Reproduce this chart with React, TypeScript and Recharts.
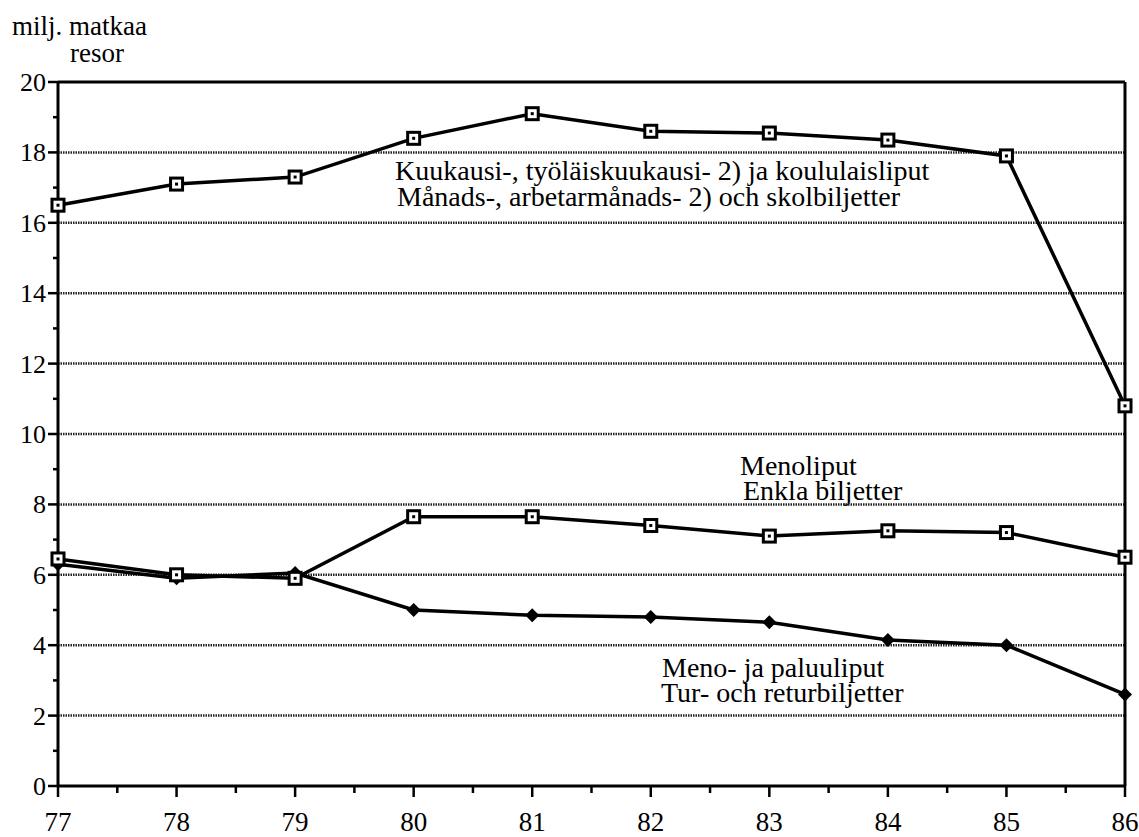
import React from "react";
import { LineChart, Line, XAxis, YAxis, ReferenceLine, Customized } from "recharts";

const years = [77, 78, 79, 80, 81, 82, 83, 84, 85, 86];
const monthly = [16.5, 17.1, 17.3, 18.4, 19.1, 18.6, 18.55, 18.35, 17.9, 10.8];
const single = [6.45, 6.0, 5.9, 7.65, 7.65, 7.4, 7.1, 7.25, 7.2, 6.5];
const returnT = [6.3, 5.9, 6.05, 5.0, 4.85, 4.8, 4.65, 4.15, 4.0, 2.6];

const xTicks = [77, 77.5, 78, 78.5, 79, 79.5, 80, 80.5, 81, 81.5, 82, 82.5, 83, 83.5, 84, 84.5, 85, 85.5, 86];
const yTicks = [0, 1, 2, 3, 4, 5, 6, 7, 8, 9, 10, 11, 12, 13, 14, 15, 16, 17, 18, 19, 20];
const gridValues = [2, 4, 6, 8, 10, 12, 14, 16, 18];

const yTitle = ["milj. matkaa", "resor"];
const labelMonthly = ["Kuukausi-, työläiskuukausi- 2) ja koululaisliput", "Månads-, arbetarmånads- 2) och skolbiljetter"];
const labelSingle = ["Menoliput", "Enkla biljetter"];
const labelReturn = ["Meno- ja paluuliput", "Tur- och returbiljetter"];

const data = years.map((y, i) => ({ year: y, monthly: monthly[i], single: single[i], ret: returnT[i] }));

const FONT = "Liberation Serif, Times New Roman, Times, serif";

const SquareDot = (props: any) => {
  const { cx, cy } = props;
  if (cx == null || cy == null) return null;
  return (
    <g>
      <rect x={cx - 6} y={cy - 6} width={12} height={12} fill="#fff" stroke="#000" strokeWidth={3} />
      <rect x={cx - 1.5} y={cy - 1.5} width={3} height={3} fill="#000" />
    </g>
  );
};

const DiamondDot = (props: any) => {
  const { cx, cy } = props;
  if (cx == null || cy == null) return null;
  return <polygon points={`${cx},${cy - 7} ${cx + 7},${cy} ${cx},${cy + 7} ${cx - 7},${cy}`} fill="#000" />;
};

const YTick = (props: any) => {
  const { x, y, payload } = props;
  const v = payload.value;
  const major = v % 2 === 0;
  return (
    <g>
      <line x1={x - (major ? 10 : 5)} x2={x} y1={y} y2={y} stroke="#000" strokeWidth={2.5} />
      {major && (
        <text x={x - 12} y={y + 9} textAnchor="end" fontFamily={FONT} fontSize={26} fill="#000">
          {v}
        </text>
      )}
    </g>
  );
};

const XTick = (props: any) => {
  const { x, y, payload } = props;
  const v = payload.value;
  const major = Number.isInteger(v);
  return (
    <g>
      <line x1={x} x2={x} y1={y} y2={y + (major ? 11 : 7)} stroke="#000" strokeWidth={2.5} />
      {major && (
        <text x={x} y={y + 45} textAnchor="middle" fontFamily={FONT} fontSize={27} fill="#000">
          {v}
        </text>
      )}
    </g>
  );
};

const Annotations = () => {
  const t = (lines: string[], x: number[], y: number[], size: number) => (
    <text fontFamily={FONT} fontSize={size} fill="#000">
      {lines.map((s, i) => (
        <tspan key={s} x={x[i]} y={y[i]}>
          {s}
        </tspan>
      ))}
    </text>
  );
  return (
    <g>
      {t(yTitle, [12, 70], [35, 62], 27)}
      {t(labelMonthly, [395, 397], [180, 206], 28)}
      {t(labelSingle, [740, 743], [475, 500], 28)}
      {t(labelReturn, [662, 661], [677, 702], 28)}
    </g>
  );
};

export default function App() {
  return (
    <div style={{ position: "absolute", left: 0, top: 0, background: "#fff" }}>
      <LineChart width={1139} height={837} data={data} margin={{ top: 82, right: 14, bottom: 11, left: 0 }}>
        {gridValues.map((g) => (
          <ReferenceLine key={g} y={g} stroke="#222" strokeWidth={2.5} strokeDasharray="1.5 1" />
        ))}
        <ReferenceLine y={20} stroke="#000" strokeWidth={3} />
        <ReferenceLine x={86} stroke="#000" strokeWidth={3} />
        <XAxis
          dataKey="year"
          type="number"
          domain={[77, 86]}
          ticks={xTicks}
          interval={0}
          height={40}
          tickSize={0}
          tickMargin={0}
          tickLine={false}
          tick={<XTick />}
          axisLine={{ stroke: "#000", strokeWidth: 3 }}
          allowDecimals
        />
        <YAxis
          type="number"
          domain={[0, 20]}
          ticks={yTicks}
          interval={0}
          width={58}
          tickSize={0}
          tickMargin={0}
          tickLine={false}
          tick={<YTick />}
          axisLine={{ stroke: "#000", strokeWidth: 3 }}
        />
        <Line dataKey="ret" stroke="#000" strokeWidth={3.5} dot={<DiamondDot />} isAnimationActive={false} />
        <Line dataKey="single" stroke="#000" strokeWidth={3.5} dot={<SquareDot />} isAnimationActive={false} />
        <Line dataKey="monthly" stroke="#000" strokeWidth={3.5} dot={<SquareDot />} isAnimationActive={false} />
        <Customized component={Annotations} />
      </LineChart>
    </div>
  );
}
